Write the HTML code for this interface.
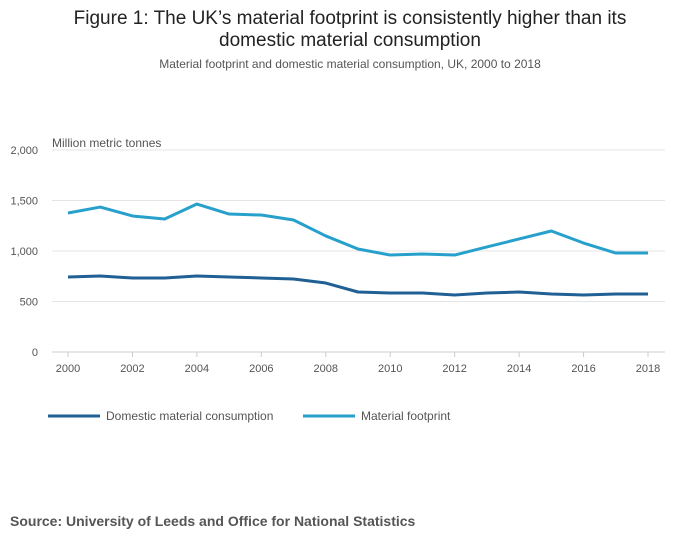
<!DOCTYPE html>
<html><head><meta charset="utf-8"><style>
body{margin:0;background:#fff;width:700px;height:549px;overflow:hidden;font-family:"Liberation Sans",sans-serif}
#title{position:absolute;left:0;width:700px;top:8px;text-align:center;font-size:19px;color:#222;line-height:22px}
#sub{position:absolute;left:0;width:700px;top:57px;text-align:center;font-size:12px;color:#555}
#src{position:absolute;left:10px;top:513px;font-size:14px;font-weight:bold;color:#555}
svg{position:absolute;left:0;top:0}
</style></head><body>
<div id="title">Figure 1: The UK’s material footprint is consistently higher than its<br>domestic material consumption</div>
<div id="sub">Material footprint and domestic material consumption, UK, 2000 to 2018</div>
<svg id="c" width="700" height="549"></svg>
<div id="src">Source: University of Leeds and Office for National Statistics</div>
<script>
const years=[2000,2001,2002,2003,2004,2005,2006,2007,2008,2009,2010,2011,2012,2013,2014,2015,2016,2017,2018];
const footprint=[1376,1435,1347,1317,1465,1366,1356,1307,1149,1020,960,970,960,1040,1119,1198,1079,980,980];
const dmc=[743,752,733,733,752,743,733,723,683,594,584,584,564,584,594,574,564,574,574];
const yTicks=[0,500,1000,1500,2000];
const xTicks=[2000,2002,2004,2006,2008,2010,2012,2014,2016,2018];
const NS="http://www.w3.org/2000/svg",svg=document.getElementById('c');
const X=v=>68+(v-2000)*(580/18), Y=v=>352-v*(202/2000);
function mk(t,a,p){const e=document.createElementNS(NS,t);for(const k in a)e.setAttribute(k,a[k]);(p||svg).appendChild(e);return e;}
yTicks.forEach(t=>{
 const l=mk('line',{x1:52,x2:665,y1:Y(t),y2:Y(t),stroke:t?'#e4e4e4':'#ccc'});
 
 
 const tx=mk('text',{x:38,y:Y(t)+4,'text-anchor':'end','font-size':11,fill:'#555'});tx.textContent=t.toLocaleString('en-GB');
 
 
});
xTicks.forEach(t=>{
 mk('line',{x1:X(t),x2:X(t),y1:352,y2:357,stroke:'#ccc'});
 const tx=mk('text',{x:X(t),y:372,'text-anchor':'middle','font-size':11,fill:'#555'});tx.textContent=t;
 
 
});
const yt=mk('text',{x:52,y:147,'font-size':12,fill:'#555'});yt.textContent='Million metric tonnes';


function series(vals,col,name){
 const p=mk('polyline',{points:vals.map((v,i)=>X(years[i])+','+Y(v)).join(' '),fill:'none',stroke:col,'stroke-width':3,'stroke-linejoin':'round'});
 
 
}
series(footprint,'#27a0cc','material-footprint-line');
series(dmc,'#206095','dmc-line');
[['Domestic material consumption','#206095',48],['Material footprint','#27a0cc',303]].forEach(([t,c,x],i)=>{
 const g=mk('g',{});
 
 
 mk('line',{x1:x,x2:x+52,y1:416,y2:416,stroke:c,'stroke-width':3},g);
 const tx=mk('text',{x:x+58,y:420,'font-size':12,fill:'#555'},g);tx.textContent=t;
});
</script>
</body></html>
